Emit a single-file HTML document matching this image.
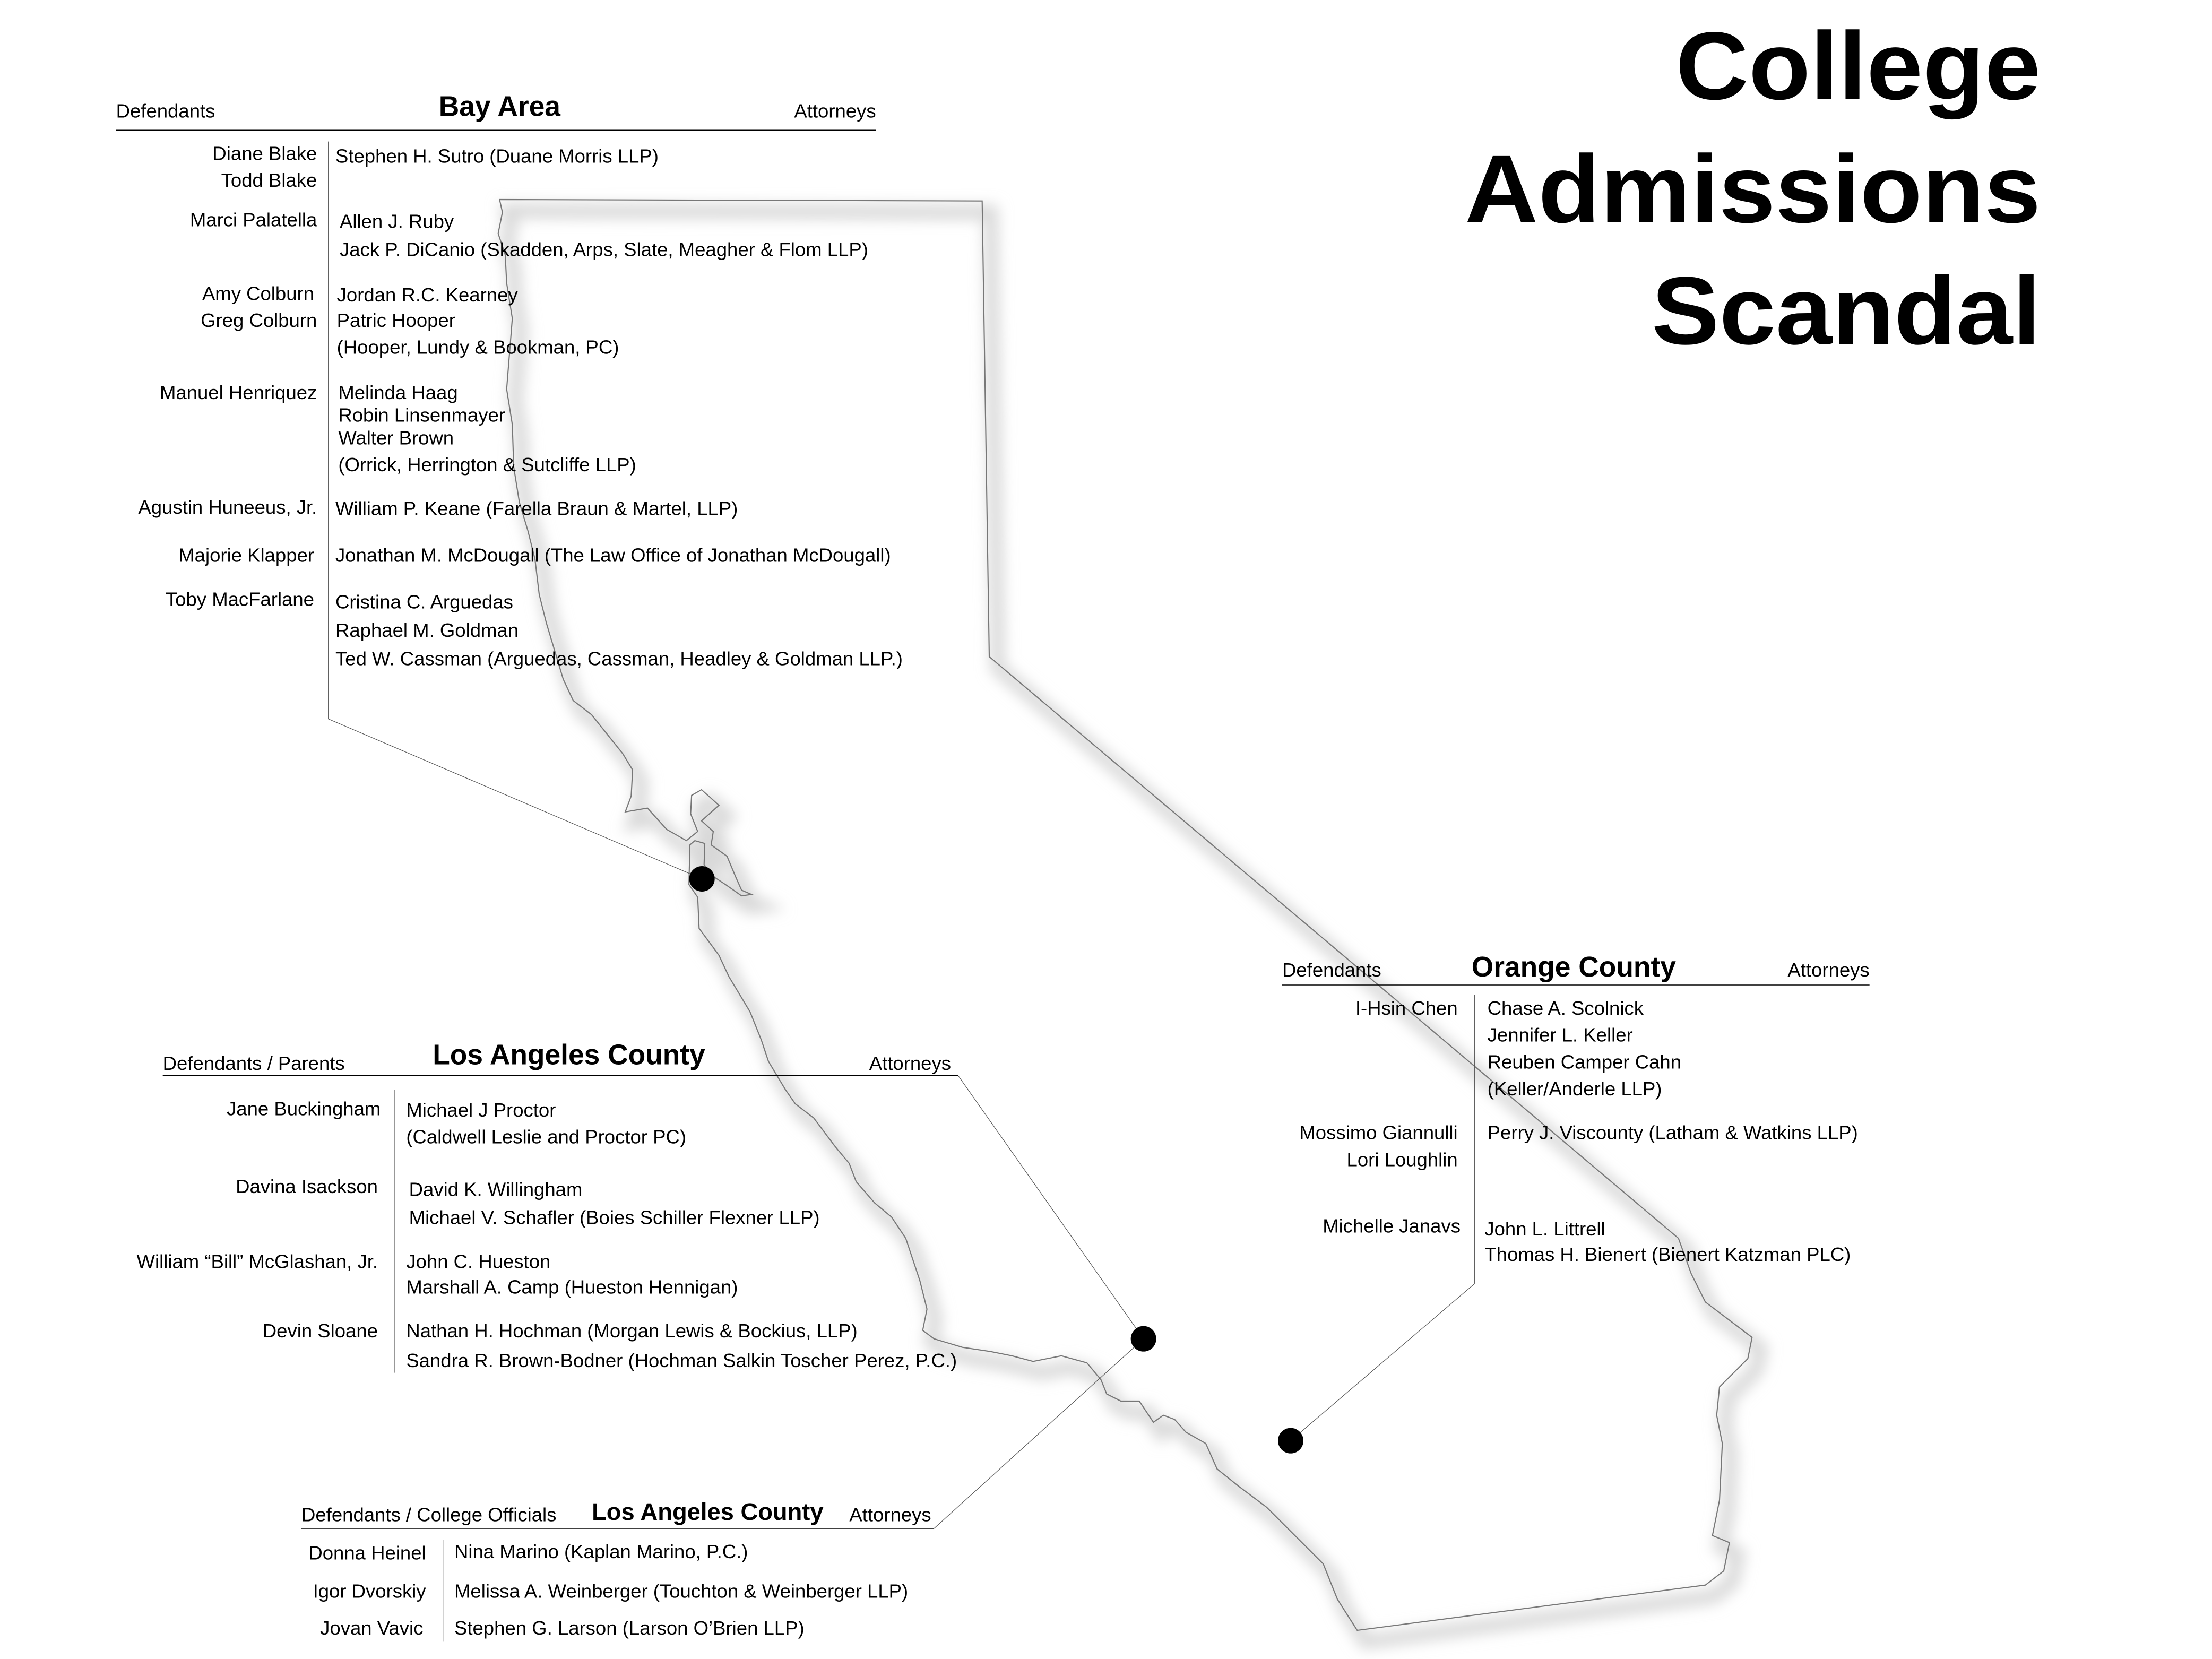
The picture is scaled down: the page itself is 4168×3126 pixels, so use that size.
<!DOCTYPE html>
<html><head><meta charset="utf-8"><style>
html,body{margin:0;padding:0;background:#fff;}
svg{display:block;}
text{font-family:"Liberation Sans",sans-serif;fill:#000;}
.s{font-size:13.7px;}
.h{font-size:20px;font-weight:bold;}
.e{text-anchor:end;}
.m{text-anchor:middle;}
</style></head><body>
<svg width="4168" height="3126" viewBox="0 0 1563 1172.25" xmlns="http://www.w3.org/2000/svg">
<defs><filter id="b" x="-10%" y="-10%" width="120%" height="120%"><feGaussianBlur stdDeviation="5"/></filter></defs>
<g id="ca">
<path d="M353,141 L694,142 L699,464 L1186,875 L1195,900 L1205,920 L1238,945 L1235,960 L1215,980 L1213,1000 L1217,1020 L1215,1060 L1210,1085 L1222,1090 L1218,1110 L1205,1120 L959,1152 L945,1130 L935,1105 L915,1085 L895,1065 L875,1050 L860,1038 L852,1020 L838,1012 L830,1003 L822,1000 L815,1005 L805,990 L792,990 L782,985 L778,975 L768,963 L750,958 L730,962 L715,958 L700,955 L680,952 L660,946 L652,940 L655,925 L650,905 L640,875 L630,860 L618,850 L605,835 L600,822 L590,810 L575,790 L562,780 L555,770 L543,750 L538,735 L530,715 L524,705 L515,690 L508,675 L494,656 L493,634 L486.8,625 L487.5,597 L491,594 L498,596 L497.5,611 L505,620 L512.6,625 L524,633 L531,632 L524,629 L520,620 L513.7,605 L502.5,597 L504,587.5 L495.7,580 L508,569 L495.7,558 L488.7,562 L488,575 L493,587.5 L485,594 L471,586 L457.5,571 L441.8,573.7 L446,562.5 L447,544 L440,532.5 L430,520 L418,505 L405,495 L398,480 L392,460 L386,440 L381,420 L378,395 L373,375 L367,355 L363,330 L362,300 L358,275 L360,250 L362,225 L358,200 L357,180 L352,165 L355,150 Z" fill="none" stroke="#d8d8d8" stroke-width="10" filter="url(#b)" transform="translate(6,8)"/>
<path d="M353,141 L694,142 L699,464 L1186,875 L1195,900 L1205,920 L1238,945 L1235,960 L1215,980 L1213,1000 L1217,1020 L1215,1060 L1210,1085 L1222,1090 L1218,1110 L1205,1120 L959,1152 L945,1130 L935,1105 L915,1085 L895,1065 L875,1050 L860,1038 L852,1020 L838,1012 L830,1003 L822,1000 L815,1005 L805,990 L792,990 L782,985 L778,975 L768,963 L750,958 L730,962 L715,958 L700,955 L680,952 L660,946 L652,940 L655,925 L650,905 L640,875 L630,860 L618,850 L605,835 L600,822 L590,810 L575,790 L562,780 L555,770 L543,750 L538,735 L530,715 L524,705 L515,690 L508,675 L494,656 L493,634 L486.8,625 L487.5,597 L491,594 L498,596 L497.5,611 L505,620 L512.6,625 L524,633 L531,632 L524,629 L520,620 L513.7,605 L502.5,597 L504,587.5 L495.7,580 L508,569 L495.7,558 L488.7,562 L488,575 L493,587.5 L485,594 L471,586 L457.5,571 L441.8,573.7 L446,562.5 L447,544 L440,532.5 L430,520 L418,505 L405,495 L398,480 L392,460 L386,440 L381,420 L378,395 L373,375 L367,355 L363,330 L362,300 L358,275 L360,250 L362,225 L358,200 L357,180 L352,165 L355,150 Z" fill="none" stroke="#777" stroke-width="0.8"/>
</g>
<g stroke="#555" stroke-width="0.45" fill="none">
<line x1="232" y1="508" x2="496" y2="621"/>
<polyline points="672,760 677,760 808,946"/>
<polyline points="808,946 660,1080"/>
<line x1="1042" y1="907" x2="912" y2="1018"/>
</g>
<g stroke="#000" stroke-width="0.6">
<line x1="82" y1="92" x2="619" y2="92"/>
<line x1="232" y1="100" x2="232" y2="508" stroke="#555" stroke-width="0.45"/>
<line x1="115" y1="760" x2="677" y2="760"/>
<line x1="279" y1="770" x2="279" y2="970" stroke="#555" stroke-width="0.45"/>
<line x1="213" y1="1080" x2="660" y2="1080"/>
<line x1="313" y1="1088" x2="313" y2="1160" stroke="#555" stroke-width="0.45"/>
<line x1="906" y1="696" x2="1321" y2="696"/>
<line x1="1042" y1="703" x2="1042" y2="907" stroke="#555" stroke-width="0.45"/>
</g>
<circle cx="496" cy="621" r="9"/>
<circle cx="808" cy="946" r="9"/>
<circle cx="912" cy="1018" r="9"/>

<g style="font-size:68px;font-weight:bold" class="e">
<text x="1442" y="70" textLength="258" lengthAdjust="spacingAndGlyphs">College</text>
<text x="1442" y="157" textLength="407" lengthAdjust="spacingAndGlyphs">Admissions</text>
<text x="1442" y="243" textLength="275" lengthAdjust="spacingAndGlyphs">Scandal</text>
</g>

<text class="s" x="82" y="83">Defendants</text>
<text class="h m" x="353" y="82">Bay Area</text>
<text class="s e" x="619" y="83">Attorneys</text>
<g class="s e">
<text x="224" y="113">Diane Blake</text>
<text x="224" y="132">Todd Blake</text>
<text x="224" y="160">Marci Palatella</text>
<text x="222" y="212">Amy Colburn</text>
<text x="224" y="231">Greg Colburn</text>
<text x="224" y="282">Manuel Henriquez</text>
<text x="224" y="363">Agustin Huneeus, Jr.</text>
<text x="222" y="397">Majorie Klapper</text>
<text x="222" y="428">Toby MacFarlane</text>
</g>
<g class="s">
<text x="237" y="115">Stephen H. Sutro (Duane Morris LLP)</text>
<text x="240" y="161">Allen J. Ruby</text>
<text x="240" y="181">Jack P. DiCanio (Skadden, Arps, Slate, Meagher &amp; Flom LLP)</text>
<text x="238" y="213">Jordan R.C. Kearney</text>
<text x="238" y="231">Patric Hooper</text>
<text x="238" y="250">(Hooper, Lundy &amp; Bookman, PC)</text>
<text x="239" y="282">Melinda Haag</text>
<text x="239" y="298">Robin Linsenmayer</text>
<text x="239" y="314">Walter Brown</text>
<text x="239" y="333">(Orrick, Herrington &amp; Sutcliffe LLP)</text>
<text x="237" y="364">William P. Keane (Farella Braun &amp; Martel, LLP)</text>
<text x="237" y="397">Jonathan M. McDougall (The Law Office of Jonathan McDougall)</text>
<text x="237" y="430">Cristina C. Arguedas</text>
<text x="237" y="450">Raphael M. Goldman</text>
<text x="237" y="470">Ted W. Cassman (Arguedas, Cassman, Headley &amp; Goldman LLP.)</text>
</g>

<text class="s" x="115" y="756">Defendants / Parents</text>
<text class="h m" x="402" y="752">Los Angeles County</text>
<text class="s e" x="672" y="756">Attorneys</text>
<g class="s e">
<text x="269" y="788">Jane Buckingham</text>
<text x="267" y="843">Davina Isackson</text>
<text x="267" y="896">William “Bill” McGlashan, Jr.</text>
<text x="267" y="945">Devin Sloane</text>
</g>
<g class="s">
<text x="287" y="789">Michael J Proctor</text>
<text x="287" y="808">(Caldwell Leslie and Proctor PC)</text>
<text x="289" y="845">David K. Willingham</text>
<text x="289" y="865">Michael V. Schafler (Boies Schiller Flexner LLP)</text>
<text x="287" y="896">John C. Hueston</text>
<text x="287" y="914">Marshall A. Camp (Hueston Hennigan)</text>
<text x="287" y="945">Nathan H. Hochman (Morgan Lewis &amp; Bockius, LLP)</text>
<text x="287" y="966">Sandra R. Brown-Bodner (Hochman Salkin Toscher Perez, P.C.)</text>
</g>

<text class="s" x="213" y="1075">Defendants / College Officials</text>
<text class="m" x="500" y="1074" style="font-size:17px;font-weight:bold">Los Angeles County</text>
<text class="s e" x="658" y="1075">Attorneys</text>
<g class="s e">
<text x="301" y="1102">Donna Heinel</text>
<text x="301" y="1129">Igor Dvorskiy</text>
<text x="299" y="1155">Jovan Vavic</text>
</g>
<g class="s">
<text x="321" y="1101">Nina Marino (Kaplan Marino, P.C.)</text>
<text x="321" y="1129">Melissa A. Weinberger (Touchton &amp; Weinberger LLP)</text>
<text x="321" y="1155">Stephen G. Larson (Larson O’Brien LLP)</text>
</g>

<text class="s" x="906" y="690">Defendants</text>
<text class="h m" x="1112" y="690">Orange County</text>
<text class="s e" x="1321" y="690">Attorneys</text>
<g class="s e">
<text x="1030" y="717">I-Hsin Chen</text>
<text x="1030" y="805">Mossimo Giannulli</text>
<text x="1030" y="824">Lori Loughlin</text>
<text x="1032" y="871">Michelle Janavs</text>
</g>
<g class="s">
<text x="1051" y="717">Chase A. Scolnick</text>
<text x="1051" y="736">Jennifer L. Keller</text>
<text x="1051" y="755">Reuben Camper Cahn</text>
<text x="1051" y="774">(Keller/Anderle LLP)</text>
<text x="1051" y="805">Perry J. Viscounty (Latham &amp; Watkins LLP)</text>
<text x="1049" y="873">John L. Littrell</text>
<text x="1049" y="891">Thomas H. Bienert (Bienert Katzman PLC)</text>
</g>
</svg>
</body></html>
